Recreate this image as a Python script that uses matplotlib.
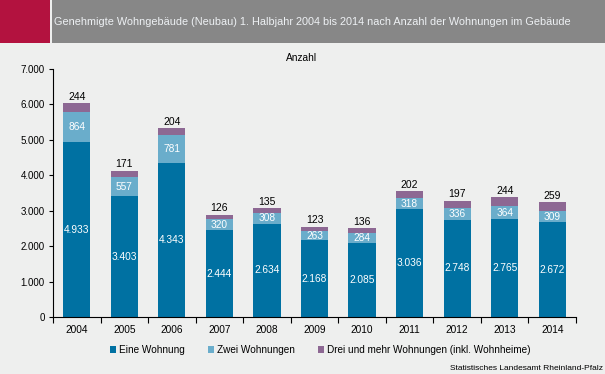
import numpy as np
import matplotlib
matplotlib.use("Agg")
import matplotlib.pyplot as plt
from matplotlib.patches import Rectangle
from matplotlib.ticker import FuncFormatter

plt.rcParams['font.family'] = ['Liberation Sans', 'DejaVu Sans']

# data
years = ['2004', '2005', '2006', '2007', '2008', '2009', '2010', '2011', '2012', '2013', '2014']
eine = [4933, 3403, 4343, 2444, 2634, 2168, 2085, 3036, 2748, 2765, 2672]
zwei = [864, 557, 781, 320, 308, 263, 284, 318, 336, 364, 309]
drei = [244, 171, 204, 126, 135, 123, 136, 202, 197, 244, 259]

c_eine = '#0071A2'
c_zwei = '#6AADCB'
c_drei = '#8D6893'
bg = '#EEEFEE'


def de(v):
    return f'{v:,.0f}'.replace(',', '.')


fig = plt.figure(figsize=(6.05, 3.74), dpi=100)
fig.patch.set_facecolor(bg)

# header band
fig.patches.append(Rectangle((0, 1 - 43 / 374), 50 / 605, 43 / 374, transform=fig.transFigure,
                             facecolor='#B3123F', edgecolor='none'))
fig.patches.append(Rectangle((52 / 605, 1 - 43 / 374), 1, 43 / 374, transform=fig.transFigure,
                             facecolor='#878787', edgecolor='none'))
fig.text(54 / 605, 1 - 22 / 374, 'Genehmigte Wohngebäude (Neubau) 1. Halbjahr 2004 bis 2014 nach Anzahl der Wohnungen im Gebäude',
         color='#EEF1F4', fontsize=7.8, va='center', ha='left')

ax = fig.add_axes([53 / 605, 57 / 374, 523 / 605, 248 / 374])
ax.set_facecolor(bg)

x = np.arange(len(years))
w = 0.57
eine_a = np.array(eine)
zwei_a = np.array(zwei)
drei_a = np.array(drei)

ax.bar(x, eine_a, w, color=c_eine, label='Eine Wohnung')
ax.bar(x, zwei_a, w, bottom=eine_a, color=c_zwei, label='Zwei Wohnungen')
ax.bar(x, drei_a, w, bottom=eine_a + zwei_a, color=c_drei,
       label='Drei und mehr Wohnungen (inkl. Wohnheime)')

for i in range(len(years)):
    ax.text(x[i], eine_a[i] / 2, de(eine_a[i]), ha='center', va='center', color='white', fontsize=7.3)
    ax.text(x[i], eine_a[i] + zwei_a[i] / 2, de(zwei_a[i]), ha='center', va='center', color='white', fontsize=7.3)
    top = eine_a[i] + zwei_a[i] + drei_a[i]
    ax.text(x[i], top + 40, de(drei_a[i]), ha='center', va='bottom', color='black', fontsize=7.5)

ax.set_xlim(-0.5, len(years) - 0.5)
ax.set_ylim(0, 7000)
ax.set_yticks(np.arange(0, 7001, 1000))
ax.yaxis.set_major_formatter(FuncFormatter(lambda v, p: de(v)))
ax.set_xticks(x)
ax.set_xticklabels(years)
ax.set_xticks(np.arange(-0.5, len(years), 1), minor=True)
ax.tick_params(axis='x', which='major', length=0, labelsize=7.3, pad=6)
ax.tick_params(axis='x', which='minor', length=4, width=0.8, direction='out')
ax.tick_params(axis='y', length=3, width=0.8, labelsize=7, pad=3)
for s in ['top', 'right']:
    ax.spines[s].set_visible(False)
for s in ['left', 'bottom']:
    ax.spines[s].set_linewidth(0.8)

ax.text(0.475, 1.045, 'Anzahl', transform=ax.transAxes, ha='center', va='center', fontsize=7.3)

leg = ax.legend(loc='center', bbox_to_anchor=(320 / 605, 24 / 374), bbox_transform=fig.transFigure,
                ncol=3, frameon=False, fontsize=7.2, handlelength=0.6, handleheight=0.6,
                handletextpad=0.3, columnspacing=2.3)

fig.text(603 / 605, 5 / 374, 'Statistisches Landesamt Rheinland-Pfalz', ha='right', va='center', fontsize=6)

fig.savefig('out.png', dpi=100, facecolor=fig.get_facecolor())
